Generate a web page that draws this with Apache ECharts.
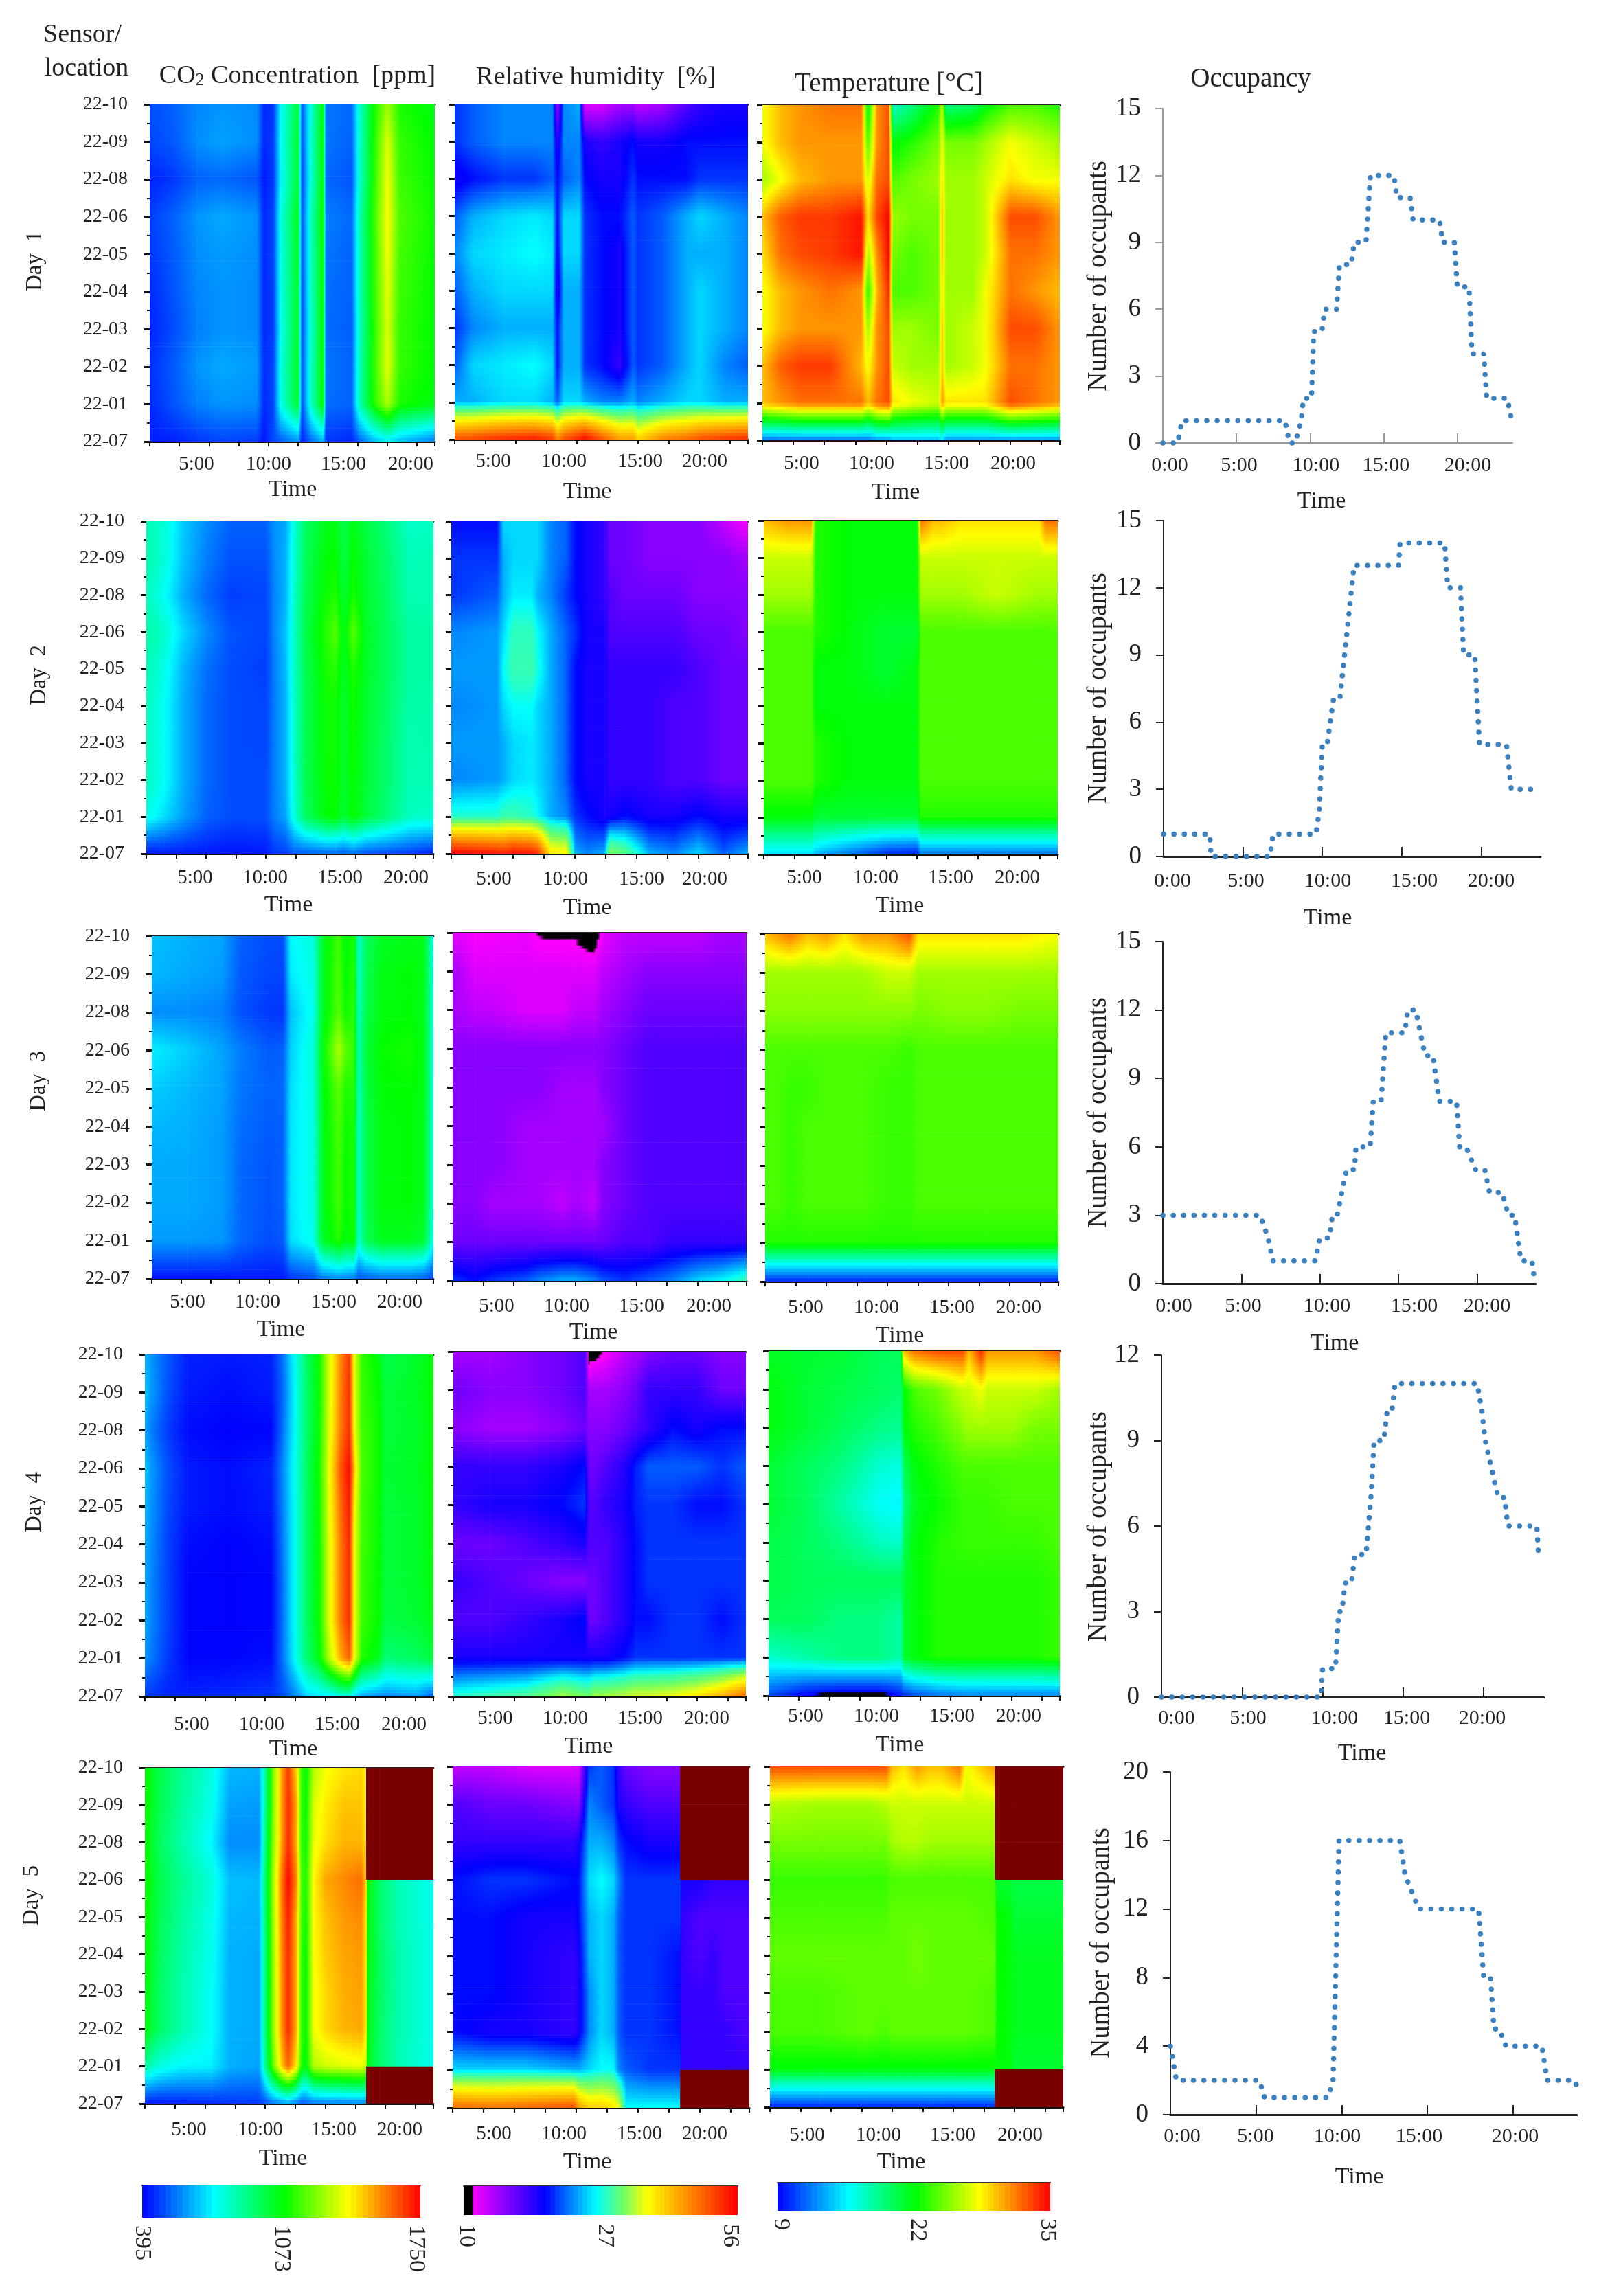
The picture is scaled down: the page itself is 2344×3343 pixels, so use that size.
<!DOCTYPE html>
<html><head><meta charset="utf-8">
<style>html,body{margin:0;padding:0;background:#fff}#c{width:2344px;height:3343px}</style>
<script src="https://cdn.jsdelivr.net/npm/echarts@6/dist/echarts.min.js"></script>
</head><body><div id="c"></div>
<script>
const _ = null;
const sensors = ['22-10','22-09','22-08','22-06','22-05','22-04','22-03','22-02','22-01','22-07'];

const co2Day1Times = [0,2,4,6,9,9.6,10.4,11,12.5,12.8,13.5,14.6,14.8,17,17.6,18.8,20,21,24];
const co2Day1 = [
[500,530,580,600,590,450,470,740,1020,500,780,1090,560,540,790,1090,1280,1120,1060],
[490,520,590,620,590,450,480,750,1040,490,790,1100,560,530,800,1100,1360,1150,1080],
[440,470,530,540,510,430,470,730,1030,470,780,1090,540,510,790,1110,1390,1160,1090],
[480,530,600,630,600,450,490,780,1060,490,810,1120,570,540,830,1130,1400,1180,1100],
[470,520,590,610,590,450,490,770,1050,490,800,1110,560,530,820,1120,1390,1170,1090],
[450,510,580,600,590,450,480,770,1040,480,800,1110,550,530,820,1120,1370,1160,1090],
[440,500,570,600,590,450,480,760,1040,480,790,1100,550,520,810,1110,1360,1150,1080],
[460,520,600,630,610,460,490,780,1050,490,800,1110,560,530,820,1120,1370,1150,1080],
[450,510,570,600,590,450,490,770,1040,490,800,1100,550,530,830,1110,1300,1120,1060],
[430,440,470,490,480,420,500,520,600,440,530,640,470,450,520,640,720,660,560]];
const rhDay1Times = [0,1.5,4,6.5,8,8.4,8.9,10.2,10.6,12,13.5,14.6,15,17,19,20,22,24];
const rhDay1 = [
[21,22,23,23,23,14,23,24,12,12,14,14,13,14,17,18,19,19],
[21,22,23,23,23,18,23,23,19,18,19,20,19,19,20,20,20,20],
[19,20,21,21,22,20,22,23,20,19,19,21,20,20,20,21,21,21],
[22,24,25,25.5,25,20,25,25,21,20,20,22,21,22,24,25,24,23],
[23,25,25.5,26,25.5,19,25,25,21,20,19,22,21,22,24,24,24,23],
[22,24,25,25,25,18,24,24,21,20,19,22,21,22,24,25,24,23],
[21,23,24,24,24,20,24,24,21,20,19,22,21,22,24,25,24,23],
[22,25,25.5,26,25,20,24,24,21,20,18,22,21,22,24,25,23,22],
[24,24,25,25,24,22,25,25,24,23,23,24,23,24,25,25,24,24],
[50,51,53,54,52,46,50,54,56,50,44,44,40,46,48,50,52,53]];
const tempDay1Times = [0,1.4,3,5.5,8,8.5,9.2,10.2,10.5,12,14.2,14.5,14.8,17,18,20,22,24];
const tempDay1 = [
[28,30,31,32,32,21,31,33,17,19,23,27,19,20,22,24,24,23],
[28,30,31,31,31,24,31,33,22,23,25,28,25,25,26,28,27,26],
[26,28,30,31,31,27,32,33,24,25,26,29,26,26,27,29,28,28],
[30,32.5,33.5,33.5,34.5,29,33,35,26,25,25,30,26,26,27,33,33,31],
[29,32,33,33.5,34.5,26,31,35,25,24,25,30,26,26,27,32,32,31],
[28,30,31,32,31,23,30,34,24,24,25,29,26,26,28,32,31,30],
[28,30,31,31,31,26,31,33,26,26,25,30,26,27,28,33,33,31],
[30,32.5,33.5,33.5,30,28,31,33,27,26,26,30,26,27,28,32,32,31],
[30,31,32,32,32,30,32,33,29,28,27,31,29,29,29,33,32,31],
[12,12,12,12,12,12,13,13,14,14,14,15,13,13,13,13,13,13]];

const co2Day2Times = [0,1.5,3,5,7,10,10.7,11.6,12.3,13.2,15,15.8,16.5,17.3,18.3,20,22,24];
const co2Day2 = [
[850,800,680,590,530,530,600,620,780,950,1060,1060,990,1060,1000,930,820,830],
[860,800,670,570,510,510,590,640,790,960,1080,1090,1000,1090,1020,950,840,850],
[840,760,640,540,480,490,580,640,800,970,1100,1120,1020,1110,1030,960,850,850],
[870,820,700,590,510,490,580,660,810,980,1130,1190,1050,1200,1040,970,870,870],
[850,780,650,550,500,480,570,650,810,970,1110,1130,1040,1120,1040,970,870,870],
[840,760,640,540,500,490,570,640,800,970,1100,1100,1030,1100,1030,960,860,860],
[840,760,640,540,500,490,570,640,800,970,1100,1100,1030,1100,1020,950,850,860],
[840,760,640,540,500,500,570,640,790,970,1090,1100,1030,1090,1020,950,850,850],
[780,700,620,530,500,500,570,620,780,950,1080,1090,1020,1090,1010,930,830,820],
[420,430,430,430,420,430,470,480,520,520,540,540,520,550,510,500,480,440]];
const rhDay2Times = [0,3.7,4.2,5,6.5,7,8,9.3,10,11,12.4,12.8,14,16,18,20,22,24];
const rhDay2 = [
[20,20,25,25,25,25,23,22,20,19,18,16,16,15,15,15,13,11],
[21,21,24,25,25,25,23,22,20,19,18,16,16,15,15,15,15,14],
[21,22,24,25.5,25.5,24,23,21,20,19,18,17,16,16,16,15,15,15],
[23,23.5,25,27.5,27.5,26,24,22,21,19,19,17,17,17,17,16,16,15],
[23.5,23.5,26,28,28,26.5,24,22,20,19,19,18,18,18,18,17,16,16],
[23,23.5,25,26,26,25,24,22,20,19,19,18,18,18,17,17,16,16],
[23.5,23.5,24,25,25.5,25,24,22,20,19,19,18,18,18,17,17,16,16],
[23,23.5,24,25,25.5,25,24,22,20,19,19,18,18,18,17,17,16,16],
[27,27,28,28,27,26,24,23,21,20,19,19,20,19,19,20,19,19],
[56,54,53,55,54,52,38,37,24,23,24,32,30,24,23,25,22,24]];
const tempDay2Times = [0,2,3.9,4.2,7,10,12.5,12.8,13.8,14.5,16,19,22.5,23,24];
const tempDay2 = [
[30,31,31,23,22,22,22,32,30,30,29,29,29,32,32],
[27,27,27,23,22,22,22,27,27,27,27,27,27,27,27],
[26,26,26,23,22,22,22,26,26,26,26,27,26,26,26],
[24,24,24,23,22,21,21,24,24,24,24,24,24,24,24],
[24,24,24,22,22,21,22,24,24,24,24,24,24,24,24],
[24,24,24,22,22,22,22,24,24,24,24,24,24,24,24],
[24,24,24,23,22,22,22,24,24,24,24,24,24,24,24],
[24,24,24,23,22,22,22,24,24,24,24,24,24,24,24],
[22,22,22,21,21,21,21,23,23,23,23,23,23,23,23],
[15,15,15,14,12,10,9.5,12,12,12,12,12,12,12,12]];

const co2Day3Times = [0,3,6,7.5,10,11.2,11.8,13.8,14.5,15.9,16.5,17.2,17.6,18.2,19.5,22,23.2,24];
const co2Day3 = [
[660,640,620,530,500,500,740,800,1030,1170,1070,1120,810,950,1040,1060,1050,760],
[650,630,610,520,490,490,720,790,1030,1180,1080,1130,820,970,1060,1080,1060,770],
[590,590,570,510,470,470,660,780,1030,1190,1100,1140,830,980,1070,1080,1050,780],
[730,680,620,570,520,530,680,810,1060,1300,1200,1150,840,1000,1090,1110,1060,790],
[680,650,620,560,530,540,700,800,1050,1200,1120,1130,830,990,1080,1090,1060,780],
[650,640,610,550,520,530,710,790,1040,1180,1100,1120,820,980,1070,1080,1050,780],
[630,630,610,540,510,530,710,790,1040,1170,1090,1120,820,980,1070,1080,1050,780],
[630,630,610,540,510,530,710,790,1040,1170,1090,1120,820,980,1070,1080,1050,780],
[610,610,600,540,500,520,700,780,1030,1130,1070,1100,810,960,1050,1050,1020,760],
[420,420,420,430,430,430,470,500,560,590,580,560,510,520,540,540,520,480]];
const rhDay3Times = [0,1.8,3.2,6,7,9,10,11.5,12.2,14,16,18,20,22,24];
const rhDay3 = [
[12,11,11.2,11.5,10.7,10.6,10.6,9.5,11.5,13,13,13,13,14,14],
[14,12,12,12,12,12,12,12,13,14,15,15,15,15,15],
[14,13,13,12,12,12,13,13,14,15,16,16,16,16,16],
[15,15,15,15,15,15,15,15,15,16,17,17,17,17,17],
[15,15,15,15,15,14,14,14,15,16,17,17,17,17,17],
[15,15,15,14,14,14,14,14,14,16,17,17,17,17,17],
[15,15,15,14,14,14,14,14,15,16,17,17,17,17,17],
[15,15,14,14,14,13,14,13,15,16,17,17,17,17,17],
[16,16,16,16,16,16,16,16,16,17,17,18,18,18,18],
[21,20,21,22,23,24,24,23,22,21,22,23,25,26,28]];
const tempDay3Times = [0,1,2,3.5,5,6.5,8,10,11.8,12.5,15,18,21,24];
const tempDay3 = [
[30,31,32,30,31,29,31,31,33,29,29,29,29,28],
[26,26,26,26,26,26,26,27,27,26,26,26,26,26],
[25.5,25.5,25.5,25.5,25.5,25.5,25.5,25.5,25.5,25,25.5,25.5,25,25],
[24,24,24,24,24,24,24,24,23.5,24,24,24,24,24],
[24,24,23.5,23.5,24,24,24,23.5,23.5,24,24,24,24,24],
[24,24,23.5,24,24,24,24,23.5,23.5,24,24,24,24,24],
[24,24,23.5,24,24,24,24,23.5,23.5,24,24,24,24,24],
[24,24,23.5,24,24,24,24,23.5,23.5,24,24,24,24,24],
[23,23,23,23,23,23,23,23,23,23,23,23,23,23],
[10,10,10,10,10,10,10,10,10,10,10,10,10,10]];

const co2Day4Times = [0,0.4,1.8,3.5,7,10.5,11.5,12.5,13.4,14.5,15.3,16.2,17,17.4,18,19.4,20,22.5,24];
const co2Day4 = [
[640,610,520,440,430,440,560,770,950,1100,1350,1550,1680,1380,1150,1070,990,1030,1080],
[680,620,510,430,410,430,540,760,940,1100,1350,1560,1690,1390,1160,1090,1010,1040,1090],
[620,580,480,410,395,400,560,760,940,1100,1360,1570,1690,1400,1170,1100,1010,1030,1080],
[680,620,510,430,410,440,590,780,950,1110,1380,1620,1740,1490,1180,1100,1020,1040,1090],
[650,610,500,430,410,430,580,770,950,1100,1370,1590,1720,1420,1170,1090,1010,1030,1080],
[630,600,490,410,395,410,570,770,950,1100,1360,1570,1700,1400,1170,1090,1010,1030,1080],
[630,590,490,400,395,400,560,770,950,1100,1360,1570,1690,1400,1160,1090,1010,1030,1070],
[630,590,490,400,395,400,560,770,950,1100,1360,1570,1690,1400,1160,1090,1000,1020,1060],
[600,570,480,400,400,410,560,760,930,1070,1300,1500,1620,1400,1130,1050,930,960,1010],
[470,470,440,440,450,470,500,580,690,720,730,780,790,700,640,600,590,620,520]];
const rhDay4Times = [0,3,6,9,10.8,11.1,11.6,12.5,14,15,16,18,20,22,24];
const rhDay4 = [
[14,14,15,16,17,9.5,10,11,13,14,15,16,16,15,15],
[16,15,15,16,17,14,14,14,15,16,18,18,18,16,16],
[15,14,14,15,16,15,15,15,16,17,18,20,19,20,20],
[18,18,18,19,20,16,16,17,18.5,20.5,22,22,22,21,22],
[18,19,19,20,21,17,17,18,19,20.5,21,21,20,20,21],
[16,16,17,18,19,17,17,17,18.5,20,21,21,21,21,21],
[18,17,16,15,15,16,16,17,18.5,20,21,21,21,21,21],
[17,17,18,19,20,16,16,17,18.5,20,20,21,21,20,21],
[19,19,19,19,19,19,19,19,20,21,21,21,21,21,21],
[27,28,29,33,31,31,33,33,34,35,35,36,38,42,48]];
const tempDay4Times = [0,3,6,9,10.9,11.1,12,14,16,16.5,17.5,18,20,22,24];
const tempDay4 = [
[21.5,21,21,20,20,30,32,33,33,30,34,31,31,31,33],
[22,21,20.5,20,19.5,22,24,25,27,27,28,27,27,27,26],
[22,21,20,19,18.5,22,23,24,25.5,26,26,26,26,25,25],
[21,20,19,17,16.5,20,22,23,24,24,24,24,24,24,24],
[21,20,18,16,15.5,19,21.5,22.5,23.5,23.5,23.5,23.5,24,24,24],
[20.5,20,19,17.5,17,20,22,23,23.5,23.5,23.5,23.5,23.5,23.5,24],
[20.5,20,20,20,20,21,22,23,23,23,23,23,23,23,23.5],
[20,20,19,19,18,21,22,23,23,23,23,23,23,23,23.5],
[17,18,19,19,18,21,22,23,23,23,23,23,23,23,23.5],
[11,9,8,8,9.5,10,11,12,12.5,12.5,12.5,12.5,12.5,12.5,12.5]];

const co2Day5Times = [0,1,3,5.5,7,9.5,10,10.6,11.3,11.9,12.6,13,13.4,14,15,16.5,18,18.4,18.5,19.5,21,24];
const co2Day5 = [
[1100,1000,900,790,650,640,900,1200,1500,1680,1450,1150,1080,1300,1390,1430,1450,1400,_,_,_,_],
[1100,1000,880,780,620,610,900,1200,1500,1700,1520,1150,1090,1350,1420,1480,1480,1400,_,_,_,_],
[1100,980,860,740,590,590,920,1220,1500,1700,1500,1150,1100,1370,1440,1500,1500,1420,_,_,_,_],
[1110,1000,900,800,660,650,950,1250,1560,1750,1560,1180,1120,1400,1520,1560,1600,1450,1080,950,850,770],
[1100,990,880,780,650,640,940,1240,1540,1720,1500,1170,1100,1400,1480,1540,1560,1420,1080,950,850,770],
[1090,980,870,770,640,630,930,1230,1530,1700,1500,1150,1090,1390,1470,1520,1540,1420,1080,960,860,770],
[1080,970,860,760,640,630,930,1230,1520,1700,1500,1150,1090,1380,1450,1510,1530,1420,1070,960,860,770],
[1080,970,860,760,640,630,930,1230,1520,1700,1500,1150,1090,1380,1450,1500,1520,1420,1070,950,860,770],
[880,800,740,730,640,620,900,1180,1450,1620,1420,1130,1070,1300,1340,1360,1380,1330,1060,950,850,770],
[430,430,440,450,470,480,500,560,600,620,560,520,530,560,570,580,590,570,_,_,_,_]];
const rhDay5Times = [0,3,6,9.8,10.2,11,12,13,13.4,14,16,18.4,18.5,20,21,22,24];
const rhDay5 = [
[13,13,12,12,12,21,22,21,18,16,15,15,_,_,_,_,_],
[17,16,16,15,15,23,22,21,19,18,17,17,_,_,_,_,_],
[18,18,18,18,19,24,24,23,21,20,19,19,_,_,_,_,_],
[20,21,21,20,20,25,26,25,23,21,21,21,19,19,18,18,18],
[20,20,19,19,20,24,25,24,22,21,21,21,18,17,17,17,17],
[20,20,19,18,19,24,25,24,22,21,21,20,18,17,18,17,17],
[20,20,19,18,19,23,25,24,22,21,21,20,18,18,18,17,17],
[20,19,19,18,19,23,25,24,22,21,21,20,18,18,18,18,17],
[25,25,25,24,24,25,26,26,23,22,21,21,18,18,18,18,18],
[48,47,48,50,44,40,40,38,36,26,26,26,_,_,_,_,_]];
const tempDay5Times = [0,4,8,9.5,10,11,12,13,14,15.5,16,18.4,18.5,19.6,20,24];
const tempDay5 = [
[33,33,33,33,30,29,31,30,30,32,28,31,_,_,_,_],
[26.5,26,26,26.5,27,27,27,27,27,27,27,27,_,_,_,_],
[25,25,25,25,26,26.5,26.5,26,26,26,26,26,_,_,_,_],
[23.5,23.5,23.5,23.5,24,24,24,24,24,24,24,24,21,21,20.5,20.5],
[24,24,24,24,24.5,24.5,24.5,24.5,24.5,24.5,24.5,24,22.5,22,21,21],
[24.5,24.5,24.5,24.5,24.5,24.5,25,24.5,24.5,24.5,24.5,24.5,22.5,22,21.5,21.5],
[24,24,24.5,24.5,24.5,24.5,24.5,24.5,24.5,24.5,24.5,24,22.5,22,21.5,21.5],
[24,24,24.5,24,24.5,24.5,24.5,24.5,24.5,24.5,24.5,24,22.5,22,21.5,21.5],
[22,22,22,22,22,22,22,22,22,22,22,22,22,22,21,21],
[10,10,10,10,10,10,10,10,10,10,10,10,_,_,_,_]];

const occDay1 = [[0,0],[1,0],[1.3,1],[8.3,1],[8.6,0],[9,0],[9.4,1],[9.55,2],[10.1,2],[10.25,5],[10.8,5],[11,6],[11.8,6],[12,8],[12.8,8],[13,9],[13.8,9],[14.1,12],[15.7,12],[15.9,11],[16.8,11],[17,10],[18.8,10],[19,9],[19.8,9],[20,7],[20.8,7],[21,4],[21.8,4],[22,2],[23.4,2],[23.7,1]];
const occDay2 = [[0,1],[2.9,1],[3,0],[6.7,0],[6.9,1],[9.6,1],[9.8,2],[10,5],[10.3,5],[10.7,7],[11.1,7],[11.4,9],[11.7,11],[12,13],[14.8,13],[14.9,14],[17.7,14],[17.9,12],[18.7,12],[18.9,9],[19.6,9],[19.9,5],[21.6,5],[21.9,3],[23.6,3]];
const occDay3 = [[0,3],[6.2,3],[6.7,2],[7,1],[9.7,1],[10,2],[10.6,2],[10.8,3],[11.1,3],[11.7,5],[12.2,5],[12.3,6],[13.2,6],[13.4,8],[13.9,8],[14.2,11],[15.4,11],[15.6,12],[16.1,12],[16.7,10],[17.2,10],[17.6,8],[18.7,8],[18.9,6],[19.3,6],[19.9,5],[20.5,5],[20.8,4],[21.6,4],[22,3],[22.4,3],[22.8,1],[23.5,1],[23.7,0]];
const occDay4 = [[0,0],[9.9,0],[10,1],[10.8,1],[11,3],[11.2,3],[11.4,4],[11.8,4],[12,5],[12.7,5],[13,7],[13.2,9],[13.8,9],[14,10],[14.3,10],[14.5,11],[19.6,11],[19.9,10],[20.1,9],[20.5,8],[20.9,7],[21.3,7],[21.5,6],[23.3,6],[23.4,5]];
const occDay5 = [[0,4],[0.35,2],[5.2,2],[5.5,1],[9.2,1],[9.5,2],[9.85,16],[13.4,16],[13.7,14],[14.1,13],[14.5,12],[18,12],[18.3,8],[18.7,8],[18.9,5],[19.2,5],[19.6,4],[21.7,4],[22,2],[23.6,2],[23.8,1.5]];

const heatTickLabels = ['5:00','10:00','15:00','20:00'];
const occTickLabels = ['0:00','5:00','10:00','15:00','20:00'];
const occMax = [15,15,15,12,20];
const occStep = [3,3,3,3,4];

// colour scales: value -> bar position -> colour
const scales = {
  co2:{dom:[395,1073,1750],pos:[0,.5,1],lab:['395','1073','1750']},
  rh:{dom:[10,27,56],pos:[0,.516,1],lab:['10','27','56']},
  temp:{dom:[9,22,35],pos:[0,.5,1],lab:['9','22','35']}
};
const rainbow=[[-1,0,0,0],[-.0001,0,0,0],[0,0,0,255],[.26,0,255,255],[.51,0,255,0],[.74,255,255,0],[1,255,0,0]];
const rhRamp=[[-1,0,0,0],[.0255,0,0,0],[.026,255,0,255],[.296,0,0,255],[.484,0,255,255],[.575,100,255,110],[.67,255,255,0],[1,255,0,0]];
const ramps={co2:rainbow,rh:rhRamp,temp:rainbow};
const NODATA='#7a0000';
function toPos(k,v){const s=scales[k];if(v<s.dom[0])return -.5;
  if(v<=s.dom[1])return s.pos[0]+(v-s.dom[0])/(s.dom[1]-s.dom[0])*(s.pos[1]-s.pos[0]);
  return Math.min(1,s.pos[1]+(v-s.dom[1])/(s.dom[2]-s.dom[1])*(s.pos[2]-s.pos[1]));}
function posColor(k,f){const r=ramps[k];for(let i=1;i<r.length;i++){if(f<=r[i][0]){const a=r[i-1],b=r[i],u=(f-a[0])/(b[0]-a[0]||1);
  return 'rgb('+[1,2,3].map(j=>Math.round(a[j]+(b[j]-a[j])*u)).join(',')+')';}}return 'rgb(255,0,0)';}
const valColor=(k,v)=>posColor(k,toPos(k,v));

const FONT='"Liberation Serif"', INK='#222';
// layout: [left,right,top,bottom], tick-label centres, label row y, "Time" x,y
const layout=[
 {co2:[218,633,152,643,[286,391,500,598],676,426,713],rh:[662,1089,152,640,[718,821,932,1026],672,855,716],temp:[1110,1543,153,641,[1167,1269,1378,1475],675,1304,717],
  occ:[1693,2202,158,645,[1703,1804,1916,2018,2137],678,1924,730,402,1600],day:[51,380]},
 {co2:[213,631,759,1243,[284,386,495,591],1278,420,1318],rh:[657,1089,759,1243,[719,823,934,1026],1280,855,1322],temp:[1112,1540,758,1244,[1171,1275,1384,1481],1278,1310,1319],
  occ:[1694,2243,758,1247,[1707,1814,1933,2059,2171],1283,1933,1337,1002,1600],day:[57,983]},
 {co2:[221,631,1363,1862,[273,375,486,582],1896,409,1936],rh:[659,1087,1358,1865,[723,825,934,1032],1902,864,1940],temp:[1114,1541,1360,1866,[1173,1276,1386,1483],1904,1310,1945],
  occ:[1693,2236,1371,1869,[1709,1810,1932,2059,2165],1902,1943,1956,1620,1600],day:[56,1574]},
 {co2:[211,631,1972,2470,[279,381,491,588],2511,427,2547],rh:[660,1086,1968,2470,[721,823,932,1029],2502,857,2543],temp:[1119,1543,1967,2469,[1173,1276,1386,1483],2499,1310,2541],
  occ:[1691,2248,1973,2471,[1713,1817,1943,2048,2158],2502,1983,2553,2223,1600],day:[50,2187]},
 {co2:[211,631,2574,3063,[275,379,486,582],3101,412,3143],rh:[659,1091,2572,3069,[719,821,931,1026],3107,855,3148],temp:[1121,1548,2572,3068,[1175,1279,1387,1485],3109,1312,3148],
  occ:[1704,2296,2580,3079,[1721,1828,1947,2066,2206],3111,1979,3170,2829,1604],day:[46,2760]}
];
const HEAT={co2:[[co2Day1Times,co2Day1],[co2Day2Times,co2Day2],[co2Day3Times,co2Day3],[co2Day4Times,co2Day4],[co2Day5Times,co2Day5]],
 rh:[[rhDay1Times,rhDay1],[rhDay2Times,rhDay2],[rhDay3Times,rhDay3],[rhDay4Times,rhDay4],[rhDay5Times,rhDay5]],
 temp:[[tempDay1Times,tempDay1],[tempDay2Times,tempDay2],[tempDay3Times,tempDay3],[tempDay4Times,tempDay4],[tempDay5Times,tempDay5]]};
const OCC=[occDay1,occDay2,occDay3,occDay4,occDay5];

const grids=[],xAxes=[],yAxes=[],series=[],graphics=[];
const txt=(t,x,y,size,rot,extra)=>graphics.push({type:'text',x,y,rotation:rot||0,silent:true,z:50,
  style:Object.assign({text:t,font:size+'px '+FONT,fill:INK,textAlign:'center',textVerticalAlign:'middle'},extra||{})});

function quadRender(key){return function(params,api){
  const p0=api.coord([api.value(0),api.value(1)]),p1=api.coord([api.value(2),api.value(3)]);
  const w=p1[0]-p0[0],h=p1[1]-p0[1];
  const a=api.value(4),b=api.value(5),c=api.value(6),d=api.value(7);
  if([a,b,c,d].some(v=>isNaN(v)))return {type:'rect',shape:{x:p0[0],y:p0[1],width:w+.6,height:h+.6},style:{fill:NODATA},silent:true};
  const ny=Math.max(1,Math.ceil(h/5)),kids=[];
  for(let j=0;j<ny;j++){
    const u=(j+.5)/ny,l=a+(c-a)*u,r=b+(d-b)*u,stops=[];
    for(let s=0;s<=4;s++)stops.push({offset:s/4,color:valColor(key,l+(r-l)*s/4)});
    kids.push({type:'rect',silent:true,shape:{x:p0[0],y:p0[1]+h*j/ny,width:w+.6,height:h/ny+.7},
      style:{fill:new echarts.graphic.LinearGradient(0,0,1,0,stops)}});
  }
  return {type:'group',children:kids};
};}

function addHeat(day,key,colIdx){
  const L=layout[day][key],[left,right,top,bottom,lx,ly,tx,ty]=L,[T,R]=HEAT[key][day];
  const g=grids.length;
  grids.push({left,top,width:right-left,height:bottom-top,containLabel:false});
  const ax=xAxes.length,X=24,fs=29;
  xAxes.push({gridIndex:g,type:'value',min:0,max:X,interval:2.5,position:'bottom',
    axisLine:{onZero:false,lineStyle:{color:'#111',width:3}},axisTick:{show:true,length:7,lineStyle:{color:'#111',width:2}},axisLabel:{show:false},splitLine:{show:false}});
  const lv=lx.map(p=>(p-left)/(right-left)*X);
  xAxes.push({gridIndex:g,type:'value',min:0,max:X,position:'bottom',axisLine:{show:false,onZero:false},axisTick:{show:false},splitLine:{show:false},
    axisLabel:{show:true,customValues:lv,margin:ly-bottom-fs/2,fontFamily:FONT,fontSize:fs,color:INK,hideOverlap:false,showMinLabel:true,showMaxLabel:true,
      formatter:(v)=>heatTickLabels[lv.findIndex(q=>Math.abs(q-v)<1e-6)]}});
  xAxes.push({gridIndex:g,type:'value',min:0,max:X,position:'top',axisLine:{onZero:false,lineStyle:{color:'#222',width:3}},axisTick:{show:false},axisLabel:{show:false},splitLine:{show:false}});
  const ay=yAxes.length;
  yAxes.push({gridIndex:g,type:'value',inverse:true,min:0,max:9,interval:1,position:'left',
    axisLine:{show:false,onZero:false},axisTick:{show:true,length:8,lineStyle:{color:'#111',width:3}},
    minorTick:{show:true,splitNumber:2,length:4,lineStyle:{color:'#111',width:2}},splitLine:{show:false},minorSplitLine:{show:false},
    axisLabel:{show:colIdx===0,margin:32,fontFamily:FONT,fontSize:28,color:INK,formatter:v=>sensors[v]}});
  const data=[];
  for(let r=0;r<R.length-1;r++)for(let c=0;c<T.length-1;c++)
    data.push([T[c],r,T[c+1],r+1,R[r][c],R[r][c+1],R[r+1][c],R[r+1][c+1]]);
  series.push({type:'custom',xAxisIndex:ax,yAxisIndex:ay,clip:true,silent:true,animation:false,
    renderItem:quadRender(key),encode:{x:[0,2],y:[1,3]},data,z:2,progressive:0});
  txt('Time',tx,ty,34);
}
function addOcc(day){
  const [left,right,top,bottom,lx,ly,tx,ty,yc,yx]=layout[day].occ;
  const g=grids.length,col=day===0?'#999':'#222',ymax=occMax[day];
  grids.push({left,top,width:right-left,height:bottom-top,containLabel:false});
  const X=23.75,fs=30,ax=xAxes.length;
  xAxes.push({gridIndex:g,type:'value',min:0,max:X,position:'bottom',axisLine:{onZero:false,lineStyle:{color:col,width:day===0?2:3}},
    axisTick:{show:true,inside:true,length:14,customValues:[5,10,15,20],lineStyle:{color:col,width:2}},axisLabel:{show:false},splitLine:{show:false}});
  const lv=lx.map(p=>Math.max(0,(p-left)/(right-left)*X));
  xAxes.push({gridIndex:g,type:'value',min:0,max:X,position:'bottom',axisLine:{show:false,onZero:false},axisTick:{show:false},splitLine:{show:false},
    axisLabel:{show:true,customValues:lv,margin:ly-bottom-fs/2,fontFamily:FONT,fontSize:fs,color:INK,hideOverlap:false,showMinLabel:true,showMaxLabel:true,
      formatter:(v)=>occTickLabels[lv.findIndex(q=>Math.abs(q-v)<1e-6)]}});
  const ay=yAxes.length;
  yAxes.push({gridIndex:g,type:'value',min:0,max:ymax,interval:occStep[day],position:'left',
    axisLine:{show:true,onZero:false,lineStyle:{color:day===0?'#999':'#222',width:2}},axisTick:{show:true,length:11,lineStyle:{color:col,width:2}},splitLine:{show:false},
    axisLabel:{margin:32,fontFamily:FONT,fontSize:37,color:INK,showMinLabel:true,showMaxLabel:true}});
  series.push({type:'line',xAxisIndex:ax,yAxisIndex:ay,data:OCC[day],showSymbol:false,clip:false,animation:false,silent:true,z:5,
    lineStyle:{color:'#3a7fc0',width:7.5,type:[0.1,15],cap:'round'}});
  txt('Number of occupants',yx,yc,39,Math.PI/2);
  txt('Time',tx,ty,34);
}
function addBar(key,box,labelPos,margin){
  const [left,right,top,bottom]=box,g=grids.length;
  grids.push({left,top,width:right-left,height:bottom-top,containLabel:false});
  const ax=xAxes.length;
  xAxes.push({gridIndex:g,type:'value',min:0,max:1,position:'bottom',axisLine:{show:false,onZero:false},axisTick:{show:false},splitLine:{show:false},
    axisLabel:{show:true,customValues:labelPos,rotate:-90,margin,fontFamily:FONT,fontSize:34,color:INK,hideOverlap:false,showMinLabel:true,showMaxLabel:true,
      formatter:v=>scales[key].lab[labelPos.indexOf(v)]}});
  xAxes.push({gridIndex:g,type:'value',min:0,max:1,position:'top',axisLine:{onZero:false,lineStyle:{color:'#333',width:2}},axisTick:{show:false},axisLabel:{show:false},splitLine:{show:false}});
  const ay=yAxes.length;
  yAxes.push({gridIndex:g,type:'value',min:0,max:1,show:false,splitLine:{show:false}});
  const n=key==='rh'?60:48,data=[];
  for(let i=0;i<n;i++)data.push([i/n,(i+1)/n]);
  series.push({type:'custom',xAxisIndex:ax,yAxisIndex:ay,clip:true,silent:true,animation:false,encode:{x:[0,1]},data,z:2,
    renderItem:(p,api)=>{const a=api.coord([api.value(0),1]),b=api.coord([api.value(1),0]);
      return {type:'rect',silent:true,shape:{x:a[0],y:a[1],width:b[0]-a[0]+.7,height:b[1]-a[1]},style:{fill:posColor(key,(api.value(0)+api.value(1))/2)}};}});
}
for(let d=0;d<5;d++){addHeat(d,'co2',0);addHeat(d,'rh',1);addHeat(d,'temp',2);addOcc(d);
  const [dx,dy]=layout[d].day;txt('Day  '+(d+1),dx,dy,33,Math.PI/2);}
addBar('co2',[207,612,3182,3229],[0,.5,.985],11);
addBar('rh',[675,1074,3183,3225],[.01,.516,.972],13);
addBar('temp',[1132,1529,3178,3219],[.0126,.514,.99],11);

txt('Sensor/',120,51,38);txt('location',126,100,38);
graphics.push({type:'text',x:433,y:111,silent:true,z:50,style:{text:'{a|CO}{b|2}{a| Concentration  [ppm]}',textAlign:'center',textVerticalAlign:'middle',
  rich:{a:{font:'38px '+FONT,fill:INK},b:{font:'26px '+FONT,fill:INK,verticalAlign:'bottom',padding:[8,0,0,0]}}}});
txt('Relative humidity  [%]',868,113,38);
txt('Temperature [°C]',1294,123,39);
txt('Occupancy',1821,116,39);

const chart=echarts.init(document.getElementById('c'),null,{renderer:'canvas',width:2344,height:3343});
chart.setOption({animation:false,backgroundColor:'#fff',grid:grids,xAxis:xAxes,yAxis:yAxes,series,graphic:graphics});
</script></body></html>
